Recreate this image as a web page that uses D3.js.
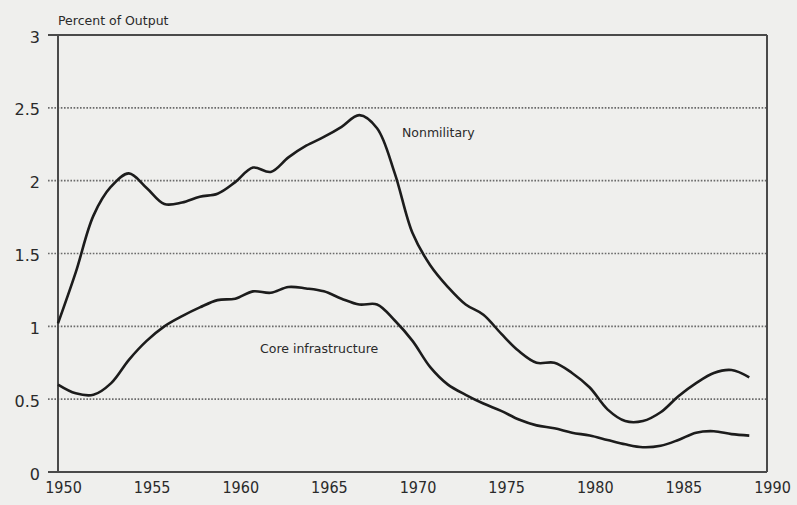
<!DOCTYPE html>
<html>
<head>
<meta charset="utf-8">
<script src="https://cdn.jsdelivr.net/npm/d3@7"></script>
<style>
  html, body { margin: 0; padding: 0; background: #efefed; }
  svg { display: block; }
  text { font-family: "DejaVu Sans", sans-serif; fill: #2a2a2a; }
</style>
</head>
<body>
<div id="grafico"></div>
<script>
// Data (percent of output)
const anos = [1950, 1951, 1952, 1953, 1954, 1955, 1956, 1957, 1958, 1959,
              1960, 1961, 1962, 1963, 1964, 1965, 1966, 1967, 1968, 1969,
              1970, 1971, 1972, 1973, 1974, 1975, 1976, 1977, 1978, 1979,
              1980, 1981, 1982, 1983, 1984, 1985, 1986, 1987, 1988, 1989];

const nonmilitary = [1.02, 1.37, 1.76, 1.96, 2.05, 1.95, 1.84, 1.85, 1.89, 1.91,
                     1.99, 2.09, 2.06, 2.16, 2.24, 2.30, 2.37, 2.45, 2.36, 2.05,
                     1.64, 1.42, 1.27, 1.15, 1.08, 0.95, 0.83, 0.75, 0.75, 0.68,
                     0.58, 0.43, 0.35, 0.35, 0.41, 0.52, 0.61, 0.68, 0.70, 0.65];

const coreInfra = [0.60, 0.54, 0.53, 0.61, 0.77, 0.90, 1.00, 1.07, 1.13, 1.18,
                   1.19, 1.24, 1.23, 1.27, 1.26, 1.24, 1.19, 1.15, 1.15, 1.04,
                   0.90, 0.72, 0.60, 0.53, 0.47, 0.42, 0.36, 0.32, 0.30, 0.27,
                   0.25, 0.22, 0.19, 0.17, 0.18, 0.22, 0.27, 0.28, 0.26, 0.25];

const ticksX = [1950, 1955, 1960, 1965, 1970, 1975, 1980, 1985, 1990];
const ticksY = [0, 0.5, 1, 1.5, 2, 2.5, 3];
const rotulosY = ['0', '0.5', '1', '1.5', '2', '2.5', '3'];

const largura = 797;
const altura = 505;
const margem = { topo: 35, direita: 30, baixo: 33, esquerda: 58 };

const svg = d3.select('#grafico')
              .append('svg')
              .attr('width', largura)
              .attr('height', altura);

const escalaX = d3.scaleLinear()
                  .domain([1950, 1990])
                  .range([margem.esquerda, largura - margem.direita]);

const escalaY = d3.scaleLinear()
                  .domain([0, 3])
                  .range([altura - margem.baixo, margem.topo]);

// dotted gridlines
svg.append('g')
   .selectAll('line')
   .data(ticksY.filter(d => d > 0 && d < 3))
   .enter()
   .append('line')
   .attr('x1', margem.esquerda - 10)
   .attr('x2', escalaX(1990))
   .attr('y1', d => escalaY(d))
   .attr('y2', d => escalaY(d))
   .attr('stroke', '#6a6a6a')
   .attr('stroke-width', 1.6)
   .attr('stroke-dasharray', '1.6,1.6');

// frame: left, bottom, top and right
const moldura = svg.append('g')
                   .attr('stroke', '#4a4a4a')
                   .attr('stroke-width', 2)
                   .attr('fill', 'none');

moldura.append('line')
       .attr('x1', escalaX(1950)).attr('x2', escalaX(1950))
       .attr('y1', escalaY(3)).attr('y2', escalaY(0));
moldura.append('line')
       .attr('x1', margem.esquerda - 10).attr('x2', escalaX(1990))
       .attr('y1', escalaY(0)).attr('y2', escalaY(0));
moldura.append('line')
       .attr('x1', margem.esquerda - 10).attr('x2', escalaX(1990))
       .attr('y1', escalaY(3)).attr('y2', escalaY(3));
moldura.append('line')
       .attr('x1', escalaX(1990)).attr('x2', escalaX(1990))
       .attr('y1', escalaY(3)).attr('y2', escalaY(0));

// y axis labels
const eixoY = d3.axisLeft(escalaY)
                .tickValues(ticksY)
                .tickFormat((d, i) => rotulosY[i])
                .tickSize(0)
                .tickPadding(18);

svg.append('g')
   .attr('transform', `translate(${margem.esquerda}, 2)`)
   .call(eixoY)
   .call(g => g.select('.domain').remove())
   .selectAll('text')
   .style('font-size', '16px')
   .style('font-family', '"DejaVu Sans", sans-serif')
   .attr('fill', '#2a2a2a');

// x axis labels
const eixoX = d3.axisBottom(escalaX)
                .tickValues(ticksX)
                .tickFormat(d3.format('d'))
                .tickSize(0)
                .tickPadding(10);

svg.append('g')
   .attr('transform', `translate(5, ${escalaY(0)})`)
   .call(eixoX)
   .call(g => g.select('.domain').remove())
   .selectAll('text')
   .style('font-size', '16px')
   .style('font-family', '"DejaVu Sans Condensed", "DejaVu Sans", sans-serif')
   .attr('fill', '#2a2a2a');

// curves
const linha = d3.line()
                .x((d, i) => escalaX(anos[i]))
                .y(d => escalaY(d))
                .curve(d3.curveCatmullRom.alpha(0.5));

[nonmilitary, coreInfra].forEach(serie => {
    svg.append('path')
       .datum(serie)
       .attr('d', linha)
       .attr('fill', 'none')
       .attr('stroke', '#1c1c1c')
       .attr('stroke-width', 2.6)
       .attr('stroke-linejoin', 'round');
});

// labels
svg.append('text')
   .attr('x', 58)
   .attr('y', 25)
   .style('font-size', '12.5px')
   .text('Percent of Output');

svg.append('text')
   .attr('x', 402)
   .attr('y', 137)
   .style('font-size', '12.5px')
   .attr('fill', '#3a3a3a')
   .text('Nonmilitary');

svg.append('text')
   .attr('x', 260)
   .attr('y', 353)
   .style('font-size', '12.5px')
   .attr('fill', '#3a3a3a')
   .text('Core infrastructure');
</script>
</body>
</html>
